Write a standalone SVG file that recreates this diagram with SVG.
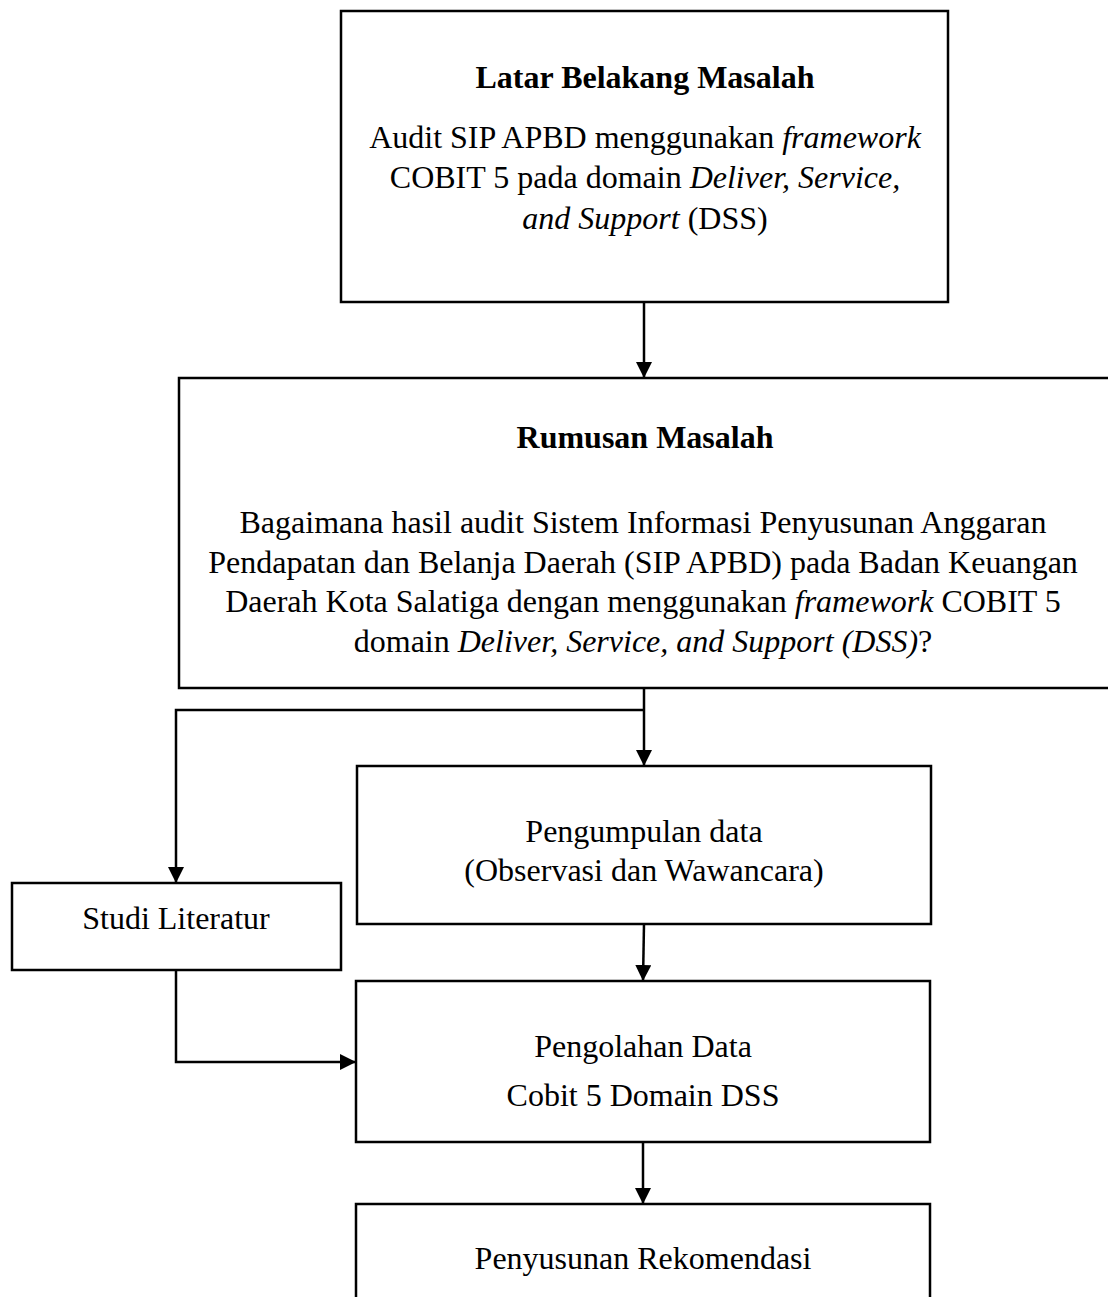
<svg xmlns="http://www.w3.org/2000/svg" width="1108" height="1297" viewBox="0 0 1108 1297">
<style>
.box{fill:#fff;stroke:#000;stroke-width:2.5}
.t{font-family:"Liberation Serif","Times New Roman",serif;font-size:32px;fill:#000;text-anchor:middle}
.b{font-weight:bold}
.i{font-style:italic}
.c{fill:none;stroke:#000;stroke-width:2.5}
</style>
<defs>
<marker id="ah" viewBox="0 0 10 10" refX="10" refY="5" markerWidth="16" markerHeight="16" markerUnits="userSpaceOnUse" orient="auto">
<path d="M0,0 L10,5 L0,10 Z" fill="#000"/>
</marker>
</defs>
<rect width="1108" height="1297" fill="#fff"/>
<g id="latar">
<rect class="box" x="341" y="11" width="607" height="291"/>
<text class="t b" x="645" y="88">Latar Belakang Masalah</text>
<text class="t" x="645" y="148">Audit SIP APBD menggunakan <tspan class="i">framework</tspan></text>
<text class="t" x="645" y="188">COBIT 5 pada domain <tspan class="i">Deliver, Service,</tspan></text>
<text class="t" x="645" y="229"><tspan class="i">and Support</tspan> (DSS)</text>
</g>
<g id="rumusan">
<rect class="box" x="179" y="378" width="940" height="310"/>
<text class="t b" x="645" y="448">Rumusan Masalah</text>
<text class="t" x="643" y="533">Bagaimana hasil audit Sistem Informasi Penyusunan Anggaran</text>
<text class="t" x="643" y="573">Pendapatan dan Belanja Daerah (SIP APBD) pada Badan Keuangan</text>
<text class="t" x="643" y="612">Daerah Kota Salatiga dengan menggunakan <tspan class="i">framework</tspan> COBIT 5</text>
<text class="t" x="643" y="652">domain <tspan class="i">Deliver, Service, and Support (DSS)</tspan>?</text>
</g>
<g id="pengumpulan">
<rect class="box" x="357" y="766" width="574" height="158"/>
<text class="t" x="644" y="842">Pengumpulan data</text>
<text class="t" x="644" y="881">(Observasi dan Wawancara)</text>
</g>
<g id="studi">
<rect class="box" x="12" y="883" width="329" height="87"/>
<text class="t" x="176" y="929">Studi Literatur</text>
</g>
<g id="pengolahan">
<rect class="box" x="356" y="981" width="574" height="161"/>
<text class="t" x="643" y="1057">Pengolahan Data</text>
<text class="t" x="643" y="1106">Cobit 5 Domain DSS</text>
</g>
<g id="penyusunan">
<rect class="box" x="356" y="1204" width="574" height="110"/>
<text class="t" x="643" y="1269">Penyusunan Rekomendasi</text>
</g>
<g id="connectors">
<line class="c" x1="644" y1="302" x2="644" y2="378" marker-end="url(#ah)"/>
<line class="c" x1="644" y1="688" x2="644" y2="766" marker-end="url(#ah)"/>
<polyline class="c" points="644,710 176,710 176,883" marker-end="url(#ah)"/>
<line class="c" x1="644" y1="924" x2="643" y2="981" marker-end="url(#ah)"/>
<polyline class="c" points="176,970 176,1062 356,1062" marker-end="url(#ah)"/>
<line class="c" x1="643" y1="1142" x2="643" y2="1204" marker-end="url(#ah)"/>
</g>
</svg>
